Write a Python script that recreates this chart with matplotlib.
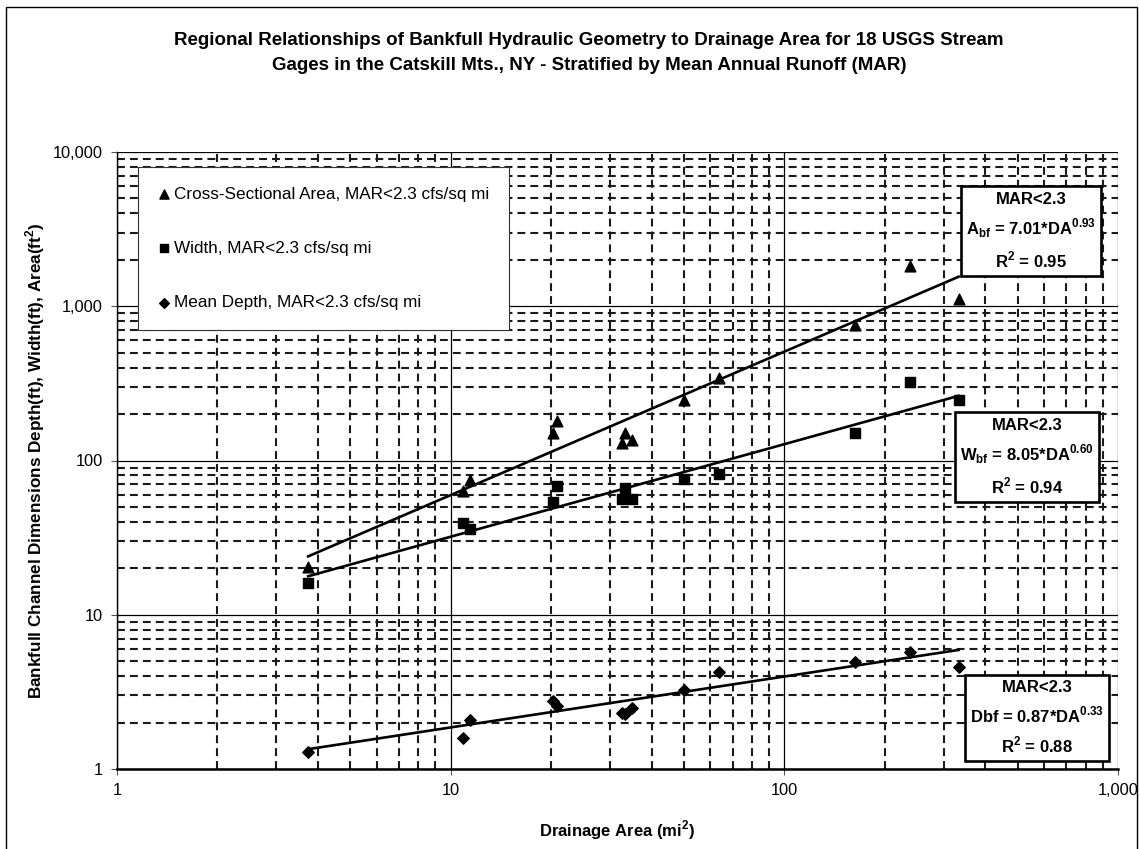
import matplotlib

matplotlib.use("Agg")
import matplotlib.pyplot as plt
import numpy as np
from matplotlib.ticker import FuncFormatter, LogLocator, NullFormatter


# values
DRAINAGE_AREA = [3.74, 10.9, 11.4, 20.2, 20.9, 32.6, 33.4, 34.9, 49.9, 63.5, 163, 238, 333]
XSEC_AREA = [20.4, 63.7, 74.8, 151, 179, 129, 150, 136, 247, 341, 756, 1824, 1109]
WIDTH = [16.1, 39.5, 35.8, 54.1, 68.4, 56.0, 66.0, 56.0, 75.5, 81.4, 150, 324, 247]
DEPTH = [1.29, 1.58, 2.08, 2.77, 2.56, 2.30, 2.27, 2.47, 3.25, 4.27, 4.96, 5.76, 4.60]

# power-law trendlines as printed on the chart: coef * DA ** expo
FIT_AREA = (7.01, 0.93, 0.95)
FIT_WIDTH = (8.05, 0.60, 0.94)
FIT_DEPTH = (0.87, 0.33, 0.88)

LEGEND_LABELS = [
    "Cross-Sectional Area, MAR<2.3 cfs/sq mi",
    "Width, MAR<2.3 cfs/sq mi",
    "Mean Depth, MAR<2.3 cfs/sq mi",
]
TITLE = (
    "Regional Relationships of Bankfull Hydraulic Geometry to Drainage Area for 18 USGS Stream\n"
    "Gages in the Catskill Mts., NY - Stratified by Mean Annual Runoff (MAR)"
)

W, H = 1140, 849
AX_L, AX_R, AX_T, AX_B = 117, 1118, 152, 769


def fx(px):
    return px / W


def fy(py):
    return 1 - py / H


plt.rcParams.update(
    {
        "font.family": ["Liberation Sans", "DejaVu Sans"],
        "mathtext.fontset": "custom",
        "mathtext.rm": "Liberation Sans",
        "mathtext.bf": "Liberation Sans:bold",
        "text.color": "black",
    }
)

fig = plt.figure(figsize=(W / 100, H / 100), dpi=100)
ax = fig.add_axes([fx(AX_L), fy(AX_B), fx(AX_R) - fx(AX_L), fy(AX_T) - fy(AX_B)])

ax.set_xscale("log")
ax.set_yscale("log")
ax.set_xlim(1, 1000)
ax.set_ylim(1, 10000)

ax.xaxis.set_minor_locator(LogLocator(base=10, subs=np.arange(2, 10)))
ax.yaxis.set_minor_locator(LogLocator(base=10, subs=np.arange(2, 10)))
ax.xaxis.set_minor_formatter(NullFormatter())
ax.yaxis.set_minor_formatter(NullFormatter())
comma = FuncFormatter(lambda v, _: f"{v:,.0f}")
ax.xaxis.set_major_formatter(comma)
ax.yaxis.set_major_formatter(comma)

ax.grid(which="major", color="black", linewidth=0.9, linestyle="-")
ax.grid(which="minor", color="#1a1a1a", linewidth=1.5, linestyle=(0, (3.8, 2.4)))
ax.set_axisbelow(True)

ax.tick_params(which="major", direction="out", length=4, width=0.8, color="#555555",
               labelsize=11.8, pad=6)
ax.tick_params(which="minor", length=0)
for side in ["top", "right"]:
    ax.spines[side].set_visible(False)
ax.spines["left"].set_linewidth(1.0)
ax.spines["bottom"].set_linewidth(1.8)

ax.scatter(DRAINAGE_AREA, XSEC_AREA, marker="^", s=60, color="black", zorder=3,
           label=LEGEND_LABELS[0])
ax.scatter(DRAINAGE_AREA, WIDTH, marker="s", s=52, color="black", zorder=3,
           label=LEGEND_LABELS[1])
ax.scatter(DRAINAGE_AREA, DEPTH, marker="D", s=34, color="black", zorder=3,
           label=LEGEND_LABELS[2])

da = np.geomspace(min(DRAINAGE_AREA), max(DRAINAGE_AREA), 50)
for coef, expo, _ in [FIT_AREA, FIT_WIDTH, FIT_DEPTH]:
    ax.plot(da, coef * da ** expo, color="black", linewidth=1.9, zorder=4)

ax.set_xlabel("Drainage Area (mi$^{\\mathbf{2}}$)", fontsize=12, fontweight="bold")
ax.xaxis.set_label_coords(0.5, (AX_B - 818) / (AX_B - AX_T))
ax.set_ylabel("Bankfull Channel Dimensions Depth(ft), Width(ft), Area(ft$^{\\mathbf{2}}$)",
              fontsize=12.3, fontweight="bold")
ax.yaxis.set_label_coords((47 - AX_L) / (AX_R - AX_L), 0.5)

fig.text(fx(589), fy(53), TITLE, ha="center", va="center", fontsize=13.5, fontweight="bold",
         linespacing=1.6)

leg = ax.legend(
    loc="upper left",
    bbox_to_anchor=(fx(138), fy(167)),
    bbox_transform=fig.transFigure,
    borderaxespad=0,
    fontsize=12.3,
    frameon=True,
    fancybox=False,
    framealpha=1,
    edgecolor="#333333",
    labelspacing=2.3,
    handlelength=0.7,
    handletextpad=0.25,
    borderpad=1.15,
    markerscale=0.85,
)
leg.get_frame().set_linewidth(0.8)
leg.set_zorder(6)

boxes = [
    (FIT_AREA, "A", 1031, 231),
    (FIT_WIDTH, "W", 1027, 457),
    (FIT_DEPTH, "D", 1037, 718),
]
for (coef, expo, r2), sym, cx, cy in boxes:
    if sym == "D":
        name = "Dbf"
    else:
        name = sym + "$_{\\mathbf{bf}}$"
    txt = f"MAR<2.3\n{name} = {coef:.2f}*DA$^{{\\mathbf{{{expo:.2f}}}}}$\nR$^{{\\mathbf{{2}}}}$ = {r2:.2f}"
    fig.text(fx(cx), fy(cy), txt, ha="center", va="center", fontsize=12, fontweight="bold",
             linespacing=1.55, zorder=7,
             bbox=dict(boxstyle="square,pad=0.32", facecolor="white", edgecolor="black",
                       linewidth=1.9))

frame = plt.Rectangle((fx(6), fy(855)), fx(1137) - fx(6), fy(7) - fy(855),
                      transform=fig.transFigure, fill=False, edgecolor="black",
                      linewidth=1.0, zorder=10)
fig.patches.append(frame)

fig.savefig("out.png", dpi=100)
